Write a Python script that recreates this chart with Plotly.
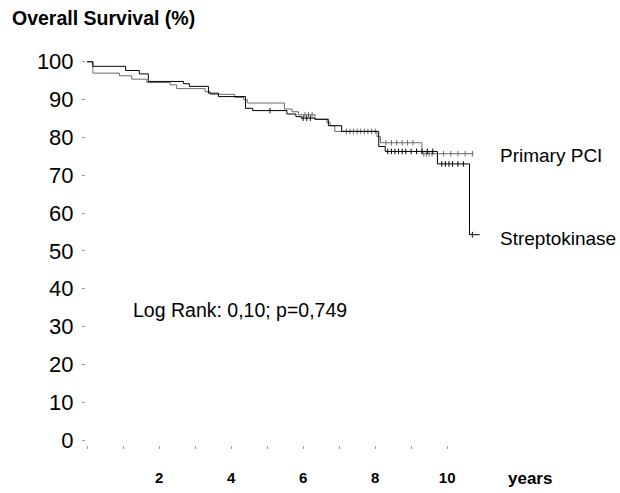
import numpy as np
import plotly.graph_objects as go

# ---------------- data ----------------
PCI_TIME = [0, 0.16, 0.90, 1.24, 1.66, 2.31, 2.49, 3.28, 3.42, 4.10, 4.35, 4.45, 5.48, 5.69, 5.87,
            6.33, 6.66, 6.75, 6.88, 8.05, 8.15, 9.30, 10.73]
PCI_SURV = [100, 97.0, 96.3, 95.4, 94.5, 93.9, 92.9, 92.1, 91.4, 90.6, 90.0, 89.1, 87.5, 86.8, 86.0,
            84.8, 84.0, 83.1, 81.6, 80.2, 78.6, 75.7, 75.7]
PCI_CENSOR = [6.05, 6.15, 6.25, 7.2, 7.3, 7.4, 7.5, 7.6, 7.7, 7.8, 7.9, 8.0, 8.3, 8.45, 8.6, 8.75,
              8.9, 9.05, 9.35, 9.42, 9.5, 9.58, 9.9, 10.1, 10.3, 10.5, 10.7]

SK_TIME = [0, 0.16, 1.07, 1.45, 1.70, 2.68, 2.84, 3.37, 3.65, 4.40, 4.60, 5.55, 5.80, 5.95, 6.33,
           6.70, 7.07, 8.10, 8.28, 9.73, 10.62, 10.90]
SK_SURV = [100, 98.8, 97.7, 96.8, 94.8, 94.2, 93.5, 91.7, 90.8, 87.7, 87.1, 86.2, 85.5, 85.1, 84.8,
           83.1, 81.6, 77.6, 76.3, 73.0, 54.3, 54.3]
SK_CENSOR = [5.08, 6.0, 6.1, 6.2, 8.35, 8.45, 8.55, 8.65, 8.75, 8.85, 9.0, 9.15, 9.3, 9.45, 9.6,
             9.85, 9.95, 10.05, 10.15, 10.3, 10.45, 10.7]

SERIES_NAMES = ["Primary PCI", "Streptokinase"]
X_TICK_VALS = list(range(0, 11))
X_TICK_TEXT = ["", "", "2", "", "4", "", "6", "", "8", "", "10"]
Y_TICK_VALS = list(range(0, 101, 10))
TITLE = "Overall Survival (%)"
X_UNIT = "years"
STAT_TEXT = "Log Rank: 0,10; p=0,749"

# ---------------- layout geometry ----------------
W, H = 620, 493
ML, MR, MT, MB = 86, 54, 58, 48
PW, PH = W - ML - MR, H - MT - MB


def px(x, y):
    return (x - ML) / PW, (H - MB - y) / PH


def step_value(times, surv, t):
    i = np.searchsorted(np.asarray(times), t, side="right") - 1
    return np.asarray(surv)[i]


fig = go.Figure()
colors = ["#6a6a6a", "#000000"]
for name, t, s, c, col in [(SERIES_NAMES[0], PCI_TIME, PCI_SURV, PCI_CENSOR, colors[0]),
                           (SERIES_NAMES[1], SK_TIME, SK_SURV, SK_CENSOR, colors[1])]:
    fig.add_trace(go.Scatter(x=t, y=s, mode="lines", line=dict(shape="hv", color=col, width=1),
                             name=name, showlegend=False, hoverinfo="skip"))
    cy = [step_value(t, s, v) for v in c]
    fig.add_trace(go.Scatter(x=c, y=cy, mode="markers",
                             marker=dict(symbol="line-ns-open", size=4, color=col,
                                         line=dict(color=col, width=1)),
                             showlegend=False, hoverinfo="skip"))

font_main = "Liberation Sans, Arial, sans-serif"

fig.update_layout(
    width=W, height=H,
    margin=dict(l=ML, r=MR, t=MT, b=MB, autoexpand=False),
    paper_bgcolor="white", plot_bgcolor="white",
    font=dict(family=font_main, color="black"),
    xaxis=dict(range=[-0.03, 13.30], tickvals=X_TICK_VALS, ticktext=X_TICK_TEXT,
               showgrid=False, zeroline=False, showline=False, automargin=False,
               ticks="outside", ticklen=3, tickcolor="#999", tickwidth=1,
               tickfont=dict(size=15, family="Liberation Sans, Arial", weight="bold"),
               ticklabelstandoff=16),
    yaxis=dict(range=[-1.3, 101.0], tickvals=Y_TICK_VALS,
               showgrid=False, zeroline=False, showline=False, automargin=False,
               ticks="outside", ticklen=3, tickcolor="#999", tickwidth=1,
               tickfont=dict(size=22), ticklabelstandoff=4),
)

anns = [
    (TITLE, 10, 18, "left", 19.5, "bold"),
    (X_UNIT, 530, 478, "center", 17, "bold"),
    (STAT_TEXT, 131, 310, "left", 19.5, "normal"),
    (SERIES_NAMES[0], 498, 155, "left", 19, "normal"),
    (SERIES_NAMES[1], 498, 238, "left", 19, "normal"),
]
for text, x, y, anchor, size, weight in anns:
    ax, ay = px(x, y)
    fig.add_annotation(x=ax, y=ay, xref="paper", yref="paper", text=text, showarrow=False,
                       xanchor=anchor, yanchor="middle",
                       font=dict(size=size, family=font_main, weight=weight, color="black"))

fig.write_html("out.html")
